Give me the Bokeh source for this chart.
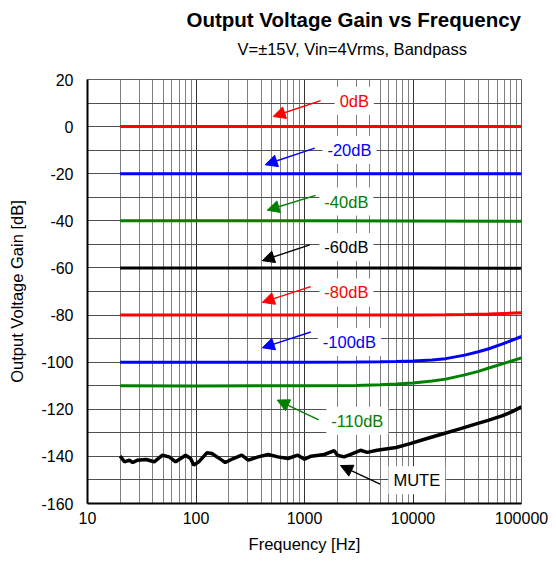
from bokeh.plotting import figure
from bokeh.models import FixedTicker, Label, Arrow, NormalHead, Range1d, Title
from bokeh.embed import file_html
from bokeh.resources import INLINE

# ---- data ----
freq_flat = [20, 100, 1000, 10000, 100000]
gain_0db = [0, 0, 0, 0, 0]
gain_20db = [-20, -20, -20, -20, -20]
gain_40db = [-40, -40, -40, -40.1, -40.2]
gain_60db = [-60, -60, -60, -60, -60.1]

freq_80db = [20, 1000, 10000, 20000, 30000, 50000, 70000, 100000]
gain_80db = [-80, -80, -80, -79.9, -79.8, -79.6, -79.3, -79.0]

freq_100db = [20, 100, 1000, 3000, 5000, 7000, 10000, 15000, 20000, 30000, 40000, 50000, 70000, 100000]
gain_100db = [-100, -100, -100, -99.9, -99.8, -99.7, -99.5, -99.1, -98.5, -97.0, -95.6, -94.3, -91.9, -89.1]

freq_110db = [20, 100, 1000, 3000, 5000, 7000, 10000, 15000, 20000, 30000, 40000, 50000, 70000, 100000]
gain_110db = [-110, -110.1, -110, -109.9, -109.6, -109.3, -108.8, -108.0, -107.2, -105.4, -103.9, -102.5, -100.4, -98.2]

freq_mute = [20, 21.9, 24.3, 26.1, 29, 34.6, 41.2, 49.1, 56.5, 65, 80.2, 89.1, 95.5, 106,
             126, 140, 173, 186, 221, 264, 303, 375, 462, 570, 703, 868, 1000, 1149,
             1523, 1878, 2014, 2314, 2662, 3285, 3783, 4667, 7000, 9413, 13000, 18970,
             27000, 38270, 50000, 67000, 82000, 100000]
gain_mute = [-139.9, -142.3, -141.6, -142.6, -141.6, -141.3, -142.3, -139.5, -140.2, -142.3,
             -139.5, -140.9, -143.7, -142.3, -138.5, -138.8, -141.6, -142.6, -140.9, -139.5,
             -141.6, -140.2, -139.2, -140.2, -140.9, -139.5, -141.2, -139.9, -139.2, -137.6,
             -139.5, -140.2, -139.1, -137.4, -138.3, -137.4, -136.2, -134.6, -132.6, -130.4,
             -128.3, -126.2, -124.6, -122.7, -121.0, -118.9]

x_ticks = [10, 100, 1000, 10000, 100000]
x_tick_labels = ["10", "100", "1000", "10000", "100000"]
y_ticks = [-160, -140, -120, -100, -80, -60, -40, -20, 0, 20]
y_tick_labels = ["-160", "-140", "-120", "-100", "-80", "-60", "-40", "-20", "0", "20"]

title_text = "Output Voltage Gain vs Frequency"
subtitle_text = "V=\u00b115V, Vin=4Vrms, Bandpass"

# annotations: label text, colour, label position, arrow start, arrow tip
ann_text = ["0dB", "-20dB", "-40dB", "-60dB", "-80dB", "-100dB", "-110dB", "MUTE"]
ann_color = ["#ff0000", "#0000ff", "#008000", "#000000", "#ff0000", "#0000ff", "#008000", "#000000"]
ann_x = [2878, 2594, 2432, 2432, 2432, 2594, 3069, 10840]
ann_y = [11.0, -9.9, -31.8, -51.1, -70.4, -91.4, -124.9, -150.1]
arr_x0 = [1409, 1242, 1268, 1117, 1142, 1142, 1352, 4977]
arr_y0 = [11.0, -9.1, -29.2, -50.2, -67.9, -87.2, -124.5, -151.8]
arr_x1 = [514, 434, 453, 408, 408, 408, 560, 2148]
arr_y1 = [4.3, -16.2, -35.5, -56.9, -74.6, -93.9, -116.1, -143.9]

FONT = "Liberation Sans"

p = figure(width=548, height=558, x_axis_type="log",
           x_range=Range1d(10, 100000), y_range=Range1d(-160, 20),
           output_backend="svg", toolbar_location=None,
           min_border_left=87, min_border_right=27, min_border_top=79, min_border_bottom=55)
p.title.visible = False

sub = Title(text=subtitle_text, align="left", offset=150, standoff=44,
            text_font=FONT, text_font_size="16.5px", text_font_style="normal", text_color="black")
main = Title(text=title_text, align="left", offset=99, standoff=-30,
             text_font=FONT, text_font_size="20.5px", text_font_style="bold", text_color="black")
p.add_layout(sub, "above")
p.add_layout(main, "above")

p.xaxis.ticker = FixedTicker(ticks=x_ticks,
                             minor_ticks=[m * t for t in x_ticks[:-1] for m in range(2, 10)])
p.yaxis.ticker = FixedTicker(ticks=y_ticks, minor_ticks=[v + 10 for v in y_ticks[:-1]])
p.xaxis.major_label_overrides = dict(zip(x_ticks, x_tick_labels))
p.yaxis.major_label_overrides = dict(zip(y_ticks, y_tick_labels))

for ax in (p.xaxis, p.yaxis):
    ax.major_tick_out = 0
    ax.major_tick_in = 0
    ax.minor_tick_out = 0
    ax.minor_tick_in = 0
    ax.axis_line_color = "black"
    ax.axis_line_width = 2
    ax.major_label_text_font = FONT
    ax.major_label_text_font_size = "16px"
    ax.major_label_text_color = "black"
    ax.axis_label_text_font = FONT
    ax.axis_label_text_font_size = "16.5px"
    ax.axis_label_text_font_style = "normal"
    ax.axis_label_text_color = "black"

p.xaxis.axis_label = "Frequency [Hz]"
p.yaxis.axis_label = "Output Voltage Gain [dB]"
p.xaxis.major_label_standoff = 8
p.xaxis.axis_label_standoff = 8
p.yaxis.major_label_standoff = 14
p.yaxis.axis_label_standoff = 12

p.xgrid.grid_line_color = "#333333"
p.xgrid.minor_grid_line_color = "#808080"
p.ygrid.grid_line_color = "#505050"
p.ygrid.minor_grid_line_color = "#505050"
p.outline_line_color = "#606060"

lw = 3
p.line(freq_flat, gain_0db, line_color="#ff0000", line_width=lw)
p.line(freq_flat, gain_20db, line_color="#0000ff", line_width=lw)
p.line(freq_flat, gain_40db, line_color="#008000", line_width=lw)
p.line(freq_flat, gain_60db, line_color="#000000", line_width=lw)
p.line(freq_80db, gain_80db, line_color="#ff0000", line_width=lw)
p.line(freq_100db, gain_100db, line_color="#0000ff", line_width=lw)
p.line(freq_110db, gain_110db, line_color="#008000", line_width=lw)
p.line(freq_mute, gain_mute, line_color="#000000", line_width=3.5)

for t, c, x, y, x0, y0, x1, y1 in zip(ann_text, ann_color, ann_x, ann_y,
                                        arr_x0, arr_y0, arr_x1, arr_y1):
    p.add_layout(Arrow(end=NormalHead(size=12, fill_color=c, line_color=c, line_width=1),
                       x_start=x0, y_start=y0, x_end=x1, y_end=y1,
                       line_color=c, line_width=1.4))
    p.add_layout(Label(x=x, y=y, text=t, text_color=c, text_font=FONT,
                       text_font_size="16.5px", text_align="center", text_baseline="middle",
                       background_fill_color="white", padding=5))

open("out.html", "w").write(file_html(p, INLINE))
